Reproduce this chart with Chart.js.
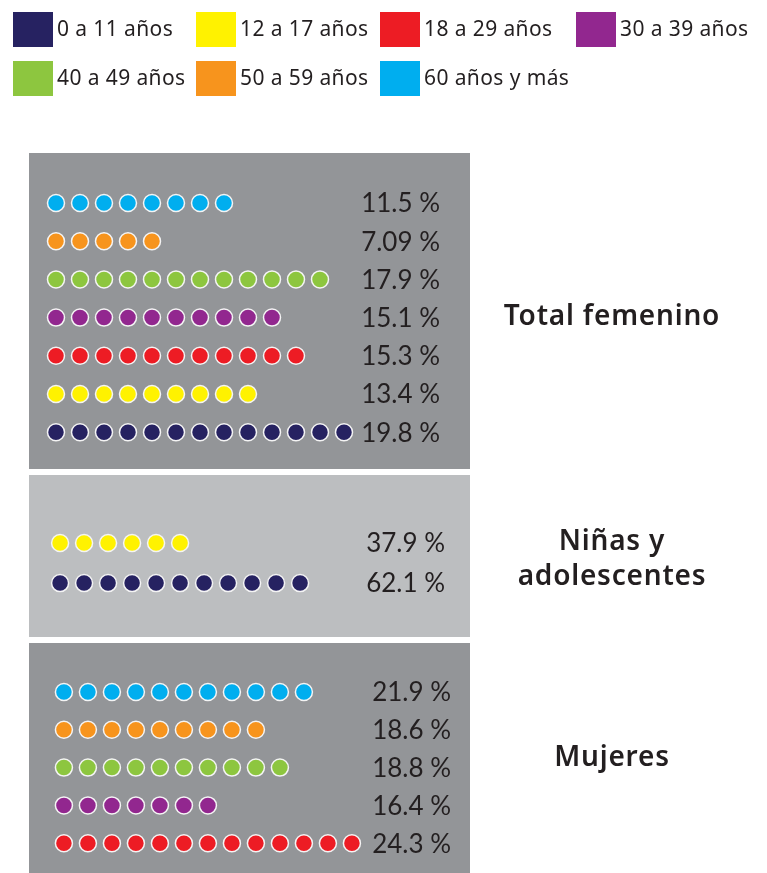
<!DOCTYPE html>
<html>
<head>
<meta charset="utf-8">
<script src="https://cdn.jsdelivr.net/npm/chart.js@4/dist/chart.umd.min.js"></script>
<style>
  html, body { margin: 0; padding: 0; background: #fff; }
  #wrap { width: 767px; height: 873px; }
</style>
</head>
<body>
<div id="wrap"><canvas id="dotChart" width="767" height="873"></canvas></div>
<script>
// age groups (legend)
const ageLabels = ['0 a 11 años', '12 a 17 años', '18 a 29 años', '30 a 39 años', '40 a 49 años', '50 a 59 años', '60 años y más'];
const ageColors = ['#262261', '#fff200', '#ed1c24', '#92278f', '#8dc63f', '#f7941d', '#00aeef'];

// panel names
const groupNames = ['Total femenino', 'Niñas y\nadolescentes', 'Mujeres'];

// rows per panel, top to bottom: age index, number of dots, percentage
const totalAges = [6, 5, 4, 3, 2, 1, 0];
const totalDots = [8, 5, 12, 10, 11, 9, 13];
const totalPct  = [11.5, 7.09, 17.9, 15.1, 15.3, 13.4, 19.8];

const ninasAges = [1, 0];
const ninasDots = [6, 11];
const ninasPct  = [37.9, 62.1];

const mujeresAges = [6, 5, 4, 3, 2];
const mujeresDots = [11, 9, 10, 7, 13];
const mujeresPct  = [21.9, 18.6, 18.8, 16.4, 24.3];

// layout of the three panels (row units on y, dot units on x, px for boxes)
const panels = [
  { ages: totalAges, dots: totalDots, pct: totalPct, yStart: 0, yGap: 1, xShift: 0,
    box: [29, 470, 153, 469], fill: '#939598', pctX: 440, labelX: 612, labelY: 317 },
  { ages: ninasAges, dots: ninasDots, pct: ninasPct, yStart: 8.9, yGap: 1.05, xShift: 0.17,
    box: [29, 470, 475, 637], fill: '#bcbec0', pctX: 445, labelX: 612, labelY: 560 },
  { ages: mujeresAges, dots: mujeresDots, pct: mujeresPct, yStart: 12.8, yGap: 0.99, xShift: 0.33,
    box: [29, 470, 643, 880], fill: '#939598', pctX: 451, labelX: 612, labelY: 758 }
];

const datasets = [];
panels.forEach((p, pi) => {
  p.ages.forEach((a, r) => {
    const pts = [];
    for (let i = 0; i < p.dots[r]; i++) {
      pts.push({ x: i + p.xShift, y: p.yStart + r * p.yGap });
    }
    datasets.push({
      label: ageLabels[a],
      data: pts,
      panel: pi,
      row: r,
      backgroundColor: ageColors[a],
      borderColor: '#f4f4f4',
      borderWidth: 1.5,
      pointRadius: 8.5,
      pointHoverRadius: 8.5
    });
  });
});

const textColor = '#231f20';

const decorPlugin = {
  id: 'decor',
  beforeDatasetsDraw(chart) {
    const ctx = chart.ctx;
    ctx.save();
    panels.forEach(p => {
      ctx.fillStyle = p.fill;
      ctx.fillRect(p.box[0], p.box[2], p.box[1] - p.box[0], p.box[3] - p.box[2]);
    });
    ctx.restore();
  },
  afterDatasetsDraw(chart) {
    const ctx = chart.ctx;
    const ys = chart.scales.y;
    ctx.save();
    // percentages
    ctx.fillStyle = textColor;
    ctx.font = '26px Lato';
    ctx.textAlign = 'right';
    ctx.textBaseline = 'middle';
    panels.forEach(p => {
      p.pct.forEach((v, r) => {
        const py = ys.getPixelForValue(p.yStart + r * p.yGap);
        ctx.fillText(v + ' %', p.pctX, py + 1);
      });
    });
    // panel names
    ctx.font = '600 28px "Noto Sans"';
    ctx.letterSpacing = '0.8px';
    ctx.textAlign = 'center';
    panels.forEach((p, i) => {
      const lines = groupNames[i].split('\n');
      const lh = 35;
      lines.forEach((l, k) => {
        ctx.fillText(l, p.labelX, p.labelY + (k - (lines.length - 1) / 2) * lh);
      });
    });
    // legend grid
    const colX = [13, 196, 380, 576];
    const rowY = [29, 78];
    ctx.font = '21px "Noto Sans"';
    ctx.letterSpacing = '0.4px';
    ctx.textAlign = 'left';
    ageLabels.forEach((lab, i) => {
      const cx = colX[i % 4];
      const cy = rowY[Math.floor(i / 4)];
      ctx.fillStyle = ageColors[i];
      ctx.fillRect(cx, cy - 17, 40, 35);
      ctx.fillStyle = textColor;
      ctx.fillText(lab, cx + 44, cy + 1);
    });
    ctx.restore();
  }
};

// x: 24 px per dot, first dot at 56 px; y: 38.2 px per row, first row at 203 px
const xMin = -56 / 24;
const yMin = -203 / 38.2;

new Chart('dotChart', {
  type: 'scatter',
  data: { datasets: datasets },
  options: {
    responsive: false,
    animation: false,
    events: [],
    layout: { padding: 0, autoPadding: false },
    scales: {
      x: { type: 'linear', display: false, min: xMin, max: xMin + 767 / 24 },
      y: { type: 'linear', display: false, reverse: true, min: yMin, max: yMin + 873 / 38.2 }
    },
    plugins: {
      legend: { display: false },
      tooltip: { enabled: false },
      title: { display: false }
    }
  },
  plugins: [decorPlugin]
});
</script>
</body>
</html>
